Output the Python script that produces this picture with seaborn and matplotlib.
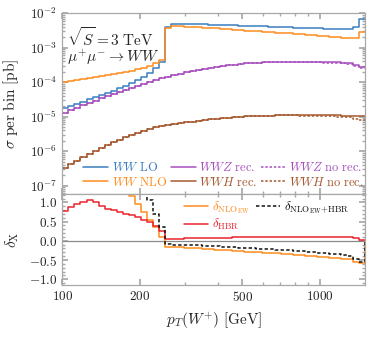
import numpy as np
import matplotlib.pyplot as plt
import seaborn as sns
from matplotlib.ticker import NullFormatter, MultipleLocator

# Style: seaborn ticks theme, then Mathematica-like frame
sns.set_theme(style='ticks')
plt.rcParams.update({
    'font.family': 'serif',
    'font.serif': ['DejaVu Serif'],
    'mathtext.fontset': 'cm',
    'axes.edgecolor': '#a8a8a8',
    'axes.linewidth': 0.9,
    'xtick.color': '#a8a8a8',
    'ytick.color': '#a8a8a8',
    'xtick.labelcolor': '#222222',
    'ytick.labelcolor': '#222222',
    'xtick.direction': 'in',
    'ytick.direction': 'in',
})

### Data

# 50 log-spaced pT bins between 100 and 1500 GeV
edges = np.geomspace(100, 1500, 51)

# cross section per bin, log10(pb)
ww_lo_log = [-4.76, -4.70, -4.63, -4.56, -4.50, -4.43, -4.37, -4.30, -4.24, -4.17,
             -4.10, -4.02, -3.94, -3.85, -3.72, -3.58, -3.40, -2.39, -2.31, -2.31,
             -2.315, -2.32, -2.32, -2.325, -2.33, -2.335, -2.34, -2.345, -2.35, -2.355,
             -2.36, -2.37, -2.375, -2.38, -2.39, -2.395, -2.40, -2.41, -2.415, -2.42,
             -2.43, -2.435, -2.44, -2.445, -2.45, -2.455, -2.46, -2.455, -2.39, -2.17]
ww_nlo_log = [-3.99, -3.96, -3.93, -3.90, -3.87, -3.84, -3.81, -3.78, -3.75, -3.72,
              -3.69, -3.66, -3.63, -3.58, -3.52, -3.44, -3.35, -2.44, -2.37, -2.38,
              -2.39, -2.40, -2.41, -2.42, -2.43, -2.44, -2.45, -2.465, -2.475, -2.49,
              -2.50, -2.51, -2.525, -2.535, -2.55, -2.56, -2.575, -2.585, -2.60, -2.61,
              -2.625, -2.64, -2.65, -2.665, -2.68, -2.695, -2.71, -2.725, -2.73, -2.535]
wwz_rec_log = [-4.89, -4.81, -4.74, -4.67, -4.60, -4.53, -4.47, -4.41, -4.35, -4.29,
               -4.23, -4.17, -4.11, -4.05, -4.00, -3.94, -3.89, -3.84, -3.79, -3.75,
               -3.71, -3.67, -3.64, -3.61, -3.58, -3.555, -3.53, -3.51, -3.49, -3.47,
               -3.455, -3.44, -3.43, -3.42, -3.415, -3.41, -3.405, -3.40, -3.40, -3.40,
               -3.40, -3.405, -3.41, -3.415, -3.42, -3.425, -3.43, -3.44, -3.50, -3.56]
wwz_norec_log = [-4.89, -4.81, -4.74, -4.67, -4.60, -4.53, -4.47, -4.41, -4.35, -4.29,
                 -4.23, -4.17, -4.11, -4.05, -4.00, -3.94, -3.89, -3.84, -3.79, -3.75,
                 -3.71, -3.67, -3.64, -3.61, -3.58, -3.555, -3.53, -3.51, -3.49, -3.47,
                 -3.455, -3.44, -3.43, -3.42, -3.415, -3.415, -3.41, -3.41, -3.41, -3.415,
                 -3.415, -3.42, -3.425, -3.43, -3.44, -3.445, -3.455, -3.47, -3.54, -3.60]
wwh_rec_log = [-6.50, -6.38, -6.27, -6.17, -6.07, -5.98, -5.90, -5.82, -5.74, -5.67,
               -5.60, -5.53, -5.47, -5.41, -5.36, -5.31, -5.27, -5.23, -5.20, -5.18,
               -5.16, -5.14, -5.12, -5.10, -5.08, -5.06, -5.04, -5.025, -5.01, -5.00,
               -4.99, -4.98, -4.975, -4.97, -4.965, -4.96, -4.955, -4.955, -4.955, -4.955,
               -4.955, -4.955, -4.955, -4.955, -4.955, -4.96, -4.965, -4.97, -4.975, -4.97]
wwh_norec_log = [-6.50, -6.38, -6.27, -6.17, -6.07, -5.98, -5.90, -5.82, -5.74, -5.67,
                 -5.60, -5.53, -5.47, -5.41, -5.36, -5.31, -5.27, -5.23, -5.20, -5.18,
                 -5.16, -5.14, -5.12, -5.10, -5.08, -5.06, -5.04, -5.025, -5.01, -5.00,
                 -4.99, -4.98, -4.975, -4.97, -4.965, -4.96, -4.955, -4.955, -4.96, -4.965,
                 -4.965, -4.97, -4.975, -4.98, -4.985, -4.995, -5.005, -5.02, -5.08, -5.10]

# relative corrections
d_nlo = [4.9, 4.5, 4.0, 3.6, 3.3, 2.9, 2.6, 2.3, 2.1, 1.8,
         1.6, 1.17, 0.97, 0.76, 0.55, 0.36, 0.10, -0.15, -0.16, -0.17,
         -0.18, -0.19, -0.20, -0.21, -0.22, -0.23, -0.24, -0.25, -0.26, -0.27,
         -0.28, -0.29, -0.30, -0.31, -0.32, -0.33, -0.34, -0.35, -0.365, -0.375,
         -0.39, -0.40, -0.41, -0.425, -0.44, -0.45, -0.465, -0.48, -0.54, -0.57]
d_hbr = [0.77, 0.87, 0.95, 1.02, 1.07, 1.00, 0.91, 0.84, 0.79, 0.75,
         0.71, 0.66, 0.61, 0.55, 0.49, 0.38, 0.25, 0.05, 0.055, 0.06,
         0.065, 0.07, 0.075, 0.075, 0.08, 0.08, 0.085, 0.085, 0.09, 0.09,
         0.09, 0.095, 0.095, 0.095, 0.10, 0.10, 0.10, 0.10, 0.10, 0.10,
         0.10, 0.10, 0.10, 0.10, 0.10, 0.10, 0.095, 0.09, 0.07, 0.03]
d_nlo_hbr = [5.7, 5.4, 4.9, 4.6, 4.4, 3.9, 3.5, 3.1, 2.9, 2.5,
             2.3, 1.8, 1.6, 1.32, 1.06, 0.70, 0.36, -0.09, -0.10, -0.105,
             -0.11, -0.11, -0.12, -0.13, -0.14, -0.145, -0.155, -0.16, -0.17, -0.18,
             -0.185, -0.195, -0.205, -0.215, -0.22, -0.23, -0.24, -0.25, -0.265, -0.275,
             -0.29, -0.30, -0.31, -0.325, -0.34, -0.35, -0.37, -0.385, -0.47, -0.54]

x_ticks = [100, 200, 500, 1000]
y_ticks_top = [1e-2, 1e-3, 1e-4, 1e-5, 1e-6, 1e-7]
y_ticks_bot = [-1.0, -0.5, 0.0, 0.5, 1.0]

c_lo = '#3b7dc0'
c_nlo = '#ff8c1f'
c_z = '#a74fbf'
c_h = '#a5582e'
c_hbr = '#e8242c'


def step(ax, vals, close=False, **kw):
    # histogram-like step line through the bin edges
    x = list(edges)
    y = list(vals) + [vals[-1]]
    if close:
        x = x + [edges[-1]]
        y = y + [0.0]
    sns.lineplot(x=x, y=y, ax=ax, drawstyle='steps-post', estimator=None,
                 sort=False, **kw)


fig = plt.figure(figsize=(3.81, 3.38), dpi=100)
ax1 = fig.add_axes([0.1635, 0.4251, 0.7958, 0.5356])
ax2 = fig.add_axes([0.1635, 0.1568, 0.7958, 0.2683])

### Upper panel
lw = 1.1
dots = (0, (1.6, 1.2))
step(ax1, 10 ** np.array(ww_lo_log), color=c_lo, lw=lw, label=r'$WW\ \mathrm{LO}$')
step(ax1, 10 ** np.array(ww_nlo_log), color=c_nlo, lw=lw, label=r'$WW\ \mathrm{NLO}$')
step(ax1, 10 ** np.array(wwz_rec_log), color=c_z, lw=lw, label=r'$WWZ\ \mathrm{rec.}$')
step(ax1, 10 ** np.array(wwh_rec_log), color=c_h, lw=lw, label=r'$WWH\ \mathrm{rec.}$')
step(ax1, 10 ** np.array(wwz_norec_log), color=c_z, lw=lw, ls=dots,
     label=r'$WWZ\ \mathrm{no\ rec.}$')
step(ax1, 10 ** np.array(wwh_norec_log), color=c_h, lw=lw, ls=dots,
     label=r'$WWH\ \mathrm{no\ rec.}$')

ax1.set_xscale('log')
ax1.set_yscale('log')
ax1.set_xlim(100, 1500)
ax1.set_ylim(10 ** -7.25, 1e-2)
ax1.set_yticks(y_ticks_top)
ax1.set_yticklabels([r'$10^{%d}$' % int(np.log10(t)) for t in y_ticks_top])
ax1.set_xticks(x_ticks)
ax1.xaxis.set_minor_formatter(NullFormatter())
ax1.tick_params(which='both', top=True, right=True, labelbottom=False, labelsize=9.5)
ax1.tick_params(which='major', length=4)
ax1.tick_params(which='minor', length=2)
ax1.set_xlabel('')
ax1.set_ylabel(r'$\sigma\ \mathrm{per\ bin\ [pb]}$', fontsize=11)
ax1.yaxis.set_label_coords(-0.135, 0.5)

ax1.text(0.015, 0.865, r'$\sqrt{S}=3\ \mathrm{TeV}$', transform=ax1.transAxes,
         fontsize=11, va='center', ha='left')
ax1.text(0.015, 0.755, r'$\mu^{+}\mu^{-}\rightarrow WW$', transform=ax1.transAxes,
         fontsize=11, va='center', ha='left')

h, l = ax1.get_legend_handles_labels()
ax1.legend(h, l, ncol=3, loc='lower left', bbox_to_anchor=(0.045, -0.01),
           frameon=False, fontsize=9.0, handlelength=2.0, handletextpad=0.25,
           columnspacing=0.3, labelspacing=0.12, labelcolor='linecolor',
           borderaxespad=0.2)

### Lower panel
ax2.axhline(0, color='#8a8a8a', lw=0.9)
step(ax2, d_nlo, close=True, color=c_nlo, lw=lw, label=r'$\delta_{\mathrm{NLO}_{\mathrm{EW}}}$')
step(ax2, d_hbr, color=c_hbr, lw=lw, label=r'$\delta_{\mathrm{HBR}}$')
step(ax2, d_nlo_hbr, close=True, color='#111111', lw=lw, ls=(0, (2.2, 1.5)),
     label=r'$\delta_{\mathrm{NLO}_{\mathrm{EW}}\mathrm{+HBR}}$')

ax2.set_xscale('log')
ax2.set_xlim(100, 1500)
ax2.set_ylim(-1.15, 1.21)
ax2.set_xticks(x_ticks)
ax2.set_xticklabels([r'$%d$' % t for t in x_ticks])
ax2.xaxis.set_minor_formatter(NullFormatter())
ax2.set_yticks(y_ticks_bot)
ax2.set_yticklabels([r'$%.1f$' % t for t in y_ticks_bot])
ax2.yaxis.set_minor_locator(MultipleLocator(0.1))
ax2.tick_params(which='both', top=True, right=True, labelsize=9.5)
ax2.tick_params(which='major', length=4)
ax2.tick_params(which='minor', length=2)
ax2.set_xlabel(r'$p_T(W^{+})\ \mathrm{[GeV]}$', fontsize=11, labelpad=5)
ax2.set_ylabel(r'$\delta_{\mathrm{X}}$', fontsize=11)
ax2.yaxis.set_label_coords(-0.135, 0.5)

h, l = ax2.get_legend_handles_labels()
ax2.legend(h, l, ncol=2, loc='upper left', bbox_to_anchor=(0.375, 1.03),
           frameon=False, fontsize=9.2, handlelength=1.9, handletextpad=0.3,
           columnspacing=0.5, labelspacing=0.1, labelcolor='linecolor',
           borderaxespad=0.2)

fig.savefig('out.png', dpi=100)
